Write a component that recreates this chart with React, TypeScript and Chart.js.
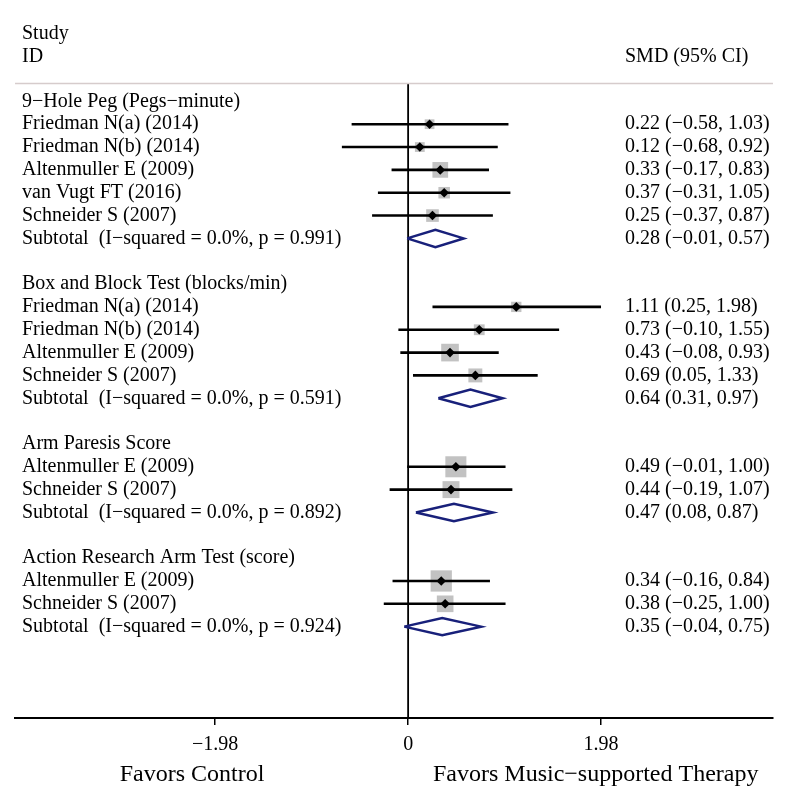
import { useEffect, useRef } from 'react';
import { Chart, registerables } from 'chart.js';

Chart.register(...registerables);

const groups = [
  '9\u2212Hole Peg (Pegs\u2212minute)',
  'Box and Block Test (blocks/min)',
  'Arm Paresis Score',
  'Action Research Arm Test (score)',
];
const studyNames = [
  ['Friedman N(a) (2014)', 'Friedman N(b) (2014)', 'Altenmuller E (2009)', 'van Vugt FT (2016)', 'Schneider S (2007)'],
  ['Friedman N(a) (2014)', 'Friedman N(b) (2014)', 'Altenmuller E (2009)', 'Schneider S (2007)'],
  ['Altenmuller E (2009)', 'Schneider S (2007)'],
  ['Altenmuller E (2009)', 'Schneider S (2007)'],
];
const smd = [
  [0.22, 0.12, 0.33, 0.37, 0.25],
  [1.11, 0.73, 0.43, 0.69],
  [0.49, 0.44],
  [0.34, 0.38],
];
const ciLow = [
  [-0.58, -0.68, -0.17, -0.31, -0.37],
  [0.25, -0.10, -0.08, 0.05],
  [-0.01, -0.19],
  [-0.16, -0.25],
];
const ciHigh = [
  [1.03, 0.92, 0.83, 1.05, 0.87],
  [1.98, 1.55, 0.93, 1.33],
  [1.00, 1.07],
  [0.84, 1.00],
];
const weights = [
  [13.0, 13.1, 33.8, 18.2, 21.9],
  [14.6, 16.0, 42.7, 26.6],
  [60.7, 39.3],
  [62.0, 38.0],
];
const iSquared = ['0.0%', '0.0%', '0.0%', '0.0%'];
const hetP = ['0.991', '0.591', '0.892', '0.924'];
const subSmd = [0.28, 0.64, 0.47, 0.35];
const subLow = [-0.01, 0.31, 0.08, -0.04];
const subHigh = [0.57, 0.97, 0.87, 0.75];
const xTicks = [-1.98, 0, 1.98];
const headerLeft = ['Study', 'ID'];
const headerRight = 'SMD (95% CI)';
const favorLeft = 'Favors Control';
const favorRight = 'Favors Music\u2212supported Therapy';

function fmt(v: number) {
  return (v < 0 ? '\u2212' : '') + Math.abs(v).toFixed(2);
}

type Row = { label: string; kind: 'head' | 'study' | 'sub'; est?: number; lo?: number; hi?: number; w?: number; y: number };

export default function App() {
  const ref = useRef<HTMLCanvasElement>(null);
  useEffect(() => {
    document.body.style.margin = '0';
    const rows: Row[] = [];
    let r = 0;
    groups.forEach((g, gi) => {
      rows.push({ label: g, kind: 'head', y: r++ });
      studyNames[gi].forEach((n, si) =>
        rows.push({ label: n, kind: 'study', est: smd[gi][si], lo: ciLow[gi][si], hi: ciHigh[gi][si], w: weights[gi][si], y: r++ })
      );
      rows.push({
        label: `Subtotal  (I\u2212squared = ${iSquared[gi]}, p = ${hetP[gi]})`,
        kind: 'sub', est: subSmd[gi], lo: subLow[gi], hi: subHigh[gi], y: r++,
      });
      r++;
    });
    const yMin = -3.78;
    const yMax = r + 2;
    const sepY = -0.8;
    const studies = rows.filter((x) => x.kind === 'study');
    const subs = rows.filter((x) => x.kind === 'sub');
    const font = '"Liberation Serif", "Times New Roman", serif';

    const datasets: any[] = [];
    datasets.push({
      data: studies.map((s) => ({ x: s.est, y: s.y })),
      pointStyle: 'rect',
      pointRadius: studies.map((s) => (2.7 * Math.sqrt(s.w as number)) / Math.SQRT2),
      backgroundColor: '#c2c2c2',
      borderWidth: 0,
      order: 4,
    });
    studies.forEach((s) =>
      datasets.push({
        data: [{ x: s.lo, y: s.y }, { x: s.hi, y: s.y }],
        showLine: true, borderColor: '#000', borderWidth: 2.6, pointRadius: 0, order: 2,
      })
    );
    datasets.push({
      data: studies.map((s) => ({ x: s.est, y: s.y })),
      pointStyle: 'rectRot', pointRadius: 4.8, backgroundColor: '#000', borderWidth: 0, order: 1,
    });
    subs.forEach((s) =>
      datasets.push({
        data: [
          { x: s.lo, y: s.y }, { x: s.est, y: s.y - 0.38 }, { x: s.hi, y: s.y },
          { x: s.est, y: s.y + 0.38 }, { x: s.lo, y: s.y },
        ],
        showLine: true, borderColor: '#18207a', borderWidth: 2.5, pointRadius: 0,
        borderJoinStyle: 'miter', fill: false, order: 1,
      })
    );
    datasets.push({
      data: [{ x: 0, y: sepY }, { x: 0, y: yMax }],
      showLine: true, borderColor: '#000', borderWidth: 1.8, pointRadius: 0, order: 5,
    });

    const textPlugin = {
      id: 'forestText',
      afterDraw(chart: any) {
        const { ctx, chartArea, scales } = chart;
        const ys = scales.y;
        ctx.save();
        ctx.strokeStyle = '#d6cccc';
        ctx.lineWidth = 1.5;
        const sp = Math.round(ys.getPixelForValue(sepY)) + 0.5;
        ctx.beginPath();
        ctx.moveTo(chartArea.left, sp);
        ctx.lineTo(chartArea.right, sp);
        ctx.stroke();
        ctx.fillStyle = '#000';
        ctx.textBaseline = 'middle';
        ctx.textAlign = 'left';
        ctx.font = `20px ${font}`;
        const lx = 22;
        const rx = 625;
        ctx.fillText(headerLeft[0], lx, ys.getPixelForValue(-2.98));
        ctx.fillText(headerLeft[1], lx, ys.getPixelForValue(-1.95));
        ctx.fillText(headerRight, rx, ys.getPixelForValue(-1.95));
        rows.forEach((row) => {
          const py = ys.getPixelForValue(row.y);
          ctx.fillText(row.label, lx, py);
          if (row.kind !== 'head') {
            ctx.fillText(`${fmt(row.est as number)} (${fmt(row.lo as number)}, ${fmt(row.hi as number)})`, rx, py);
          }
        });
        ctx.font = `24px ${font}`;
        ctx.textAlign = 'center';
        ctx.fillText(favorLeft, 192, 775);
        ctx.textAlign = 'left';
        ctx.fillText(favorRight, 433, 775);
        ctx.restore();
      },
    };

    const chart = new Chart(ref.current as HTMLCanvasElement, {
      type: 'scatter',
      data: { datasets },
      options: {
        responsive: false,
        animation: false,
        devicePixelRatio: 1,
        events: [],
        layout: { padding: { left: 10, right: 0, top: 0, bottom: 0 } },
        plugins: { legend: { display: false }, tooltip: { enabled: false } },
        scales: {
          x: {
            type: 'linear',
            min: -4.035,
            max: 3.745,
            afterBuildTicks: (s: any) => {
              s.ticks = xTicks.map((v) => ({ value: v }));
            },
            afterFit: (s: any) => {
              s.height = 70;
            },
            ticks: {
              callback: (v: any) => (Number(v) === 0 ? '0' : fmt(Number(v))),
              font: { family: font, size: 20 },
              color: '#000',
              padding: 8,
              autoSkip: false,
              maxRotation: 0,
            },
            grid: { drawOnChartArea: false, drawTicks: true, tickLength: 7, color: '#000', lineWidth: 1.5 },
            border: { display: true, color: '#000', width: 2 },
          },
          y: { type: 'linear', reverse: true, min: yMin, max: yMax, display: false },
        },
      } as any,
      plugins: [textPlugin],
    });
    return () => chart.destroy();
  }, []);
  return (
    <div style={{ width: 788, height: 788, background: '#fff' }}>
      <canvas ref={ref} width={788} height={788} style={{ display: 'block' }} />
    </div>
  );
}
